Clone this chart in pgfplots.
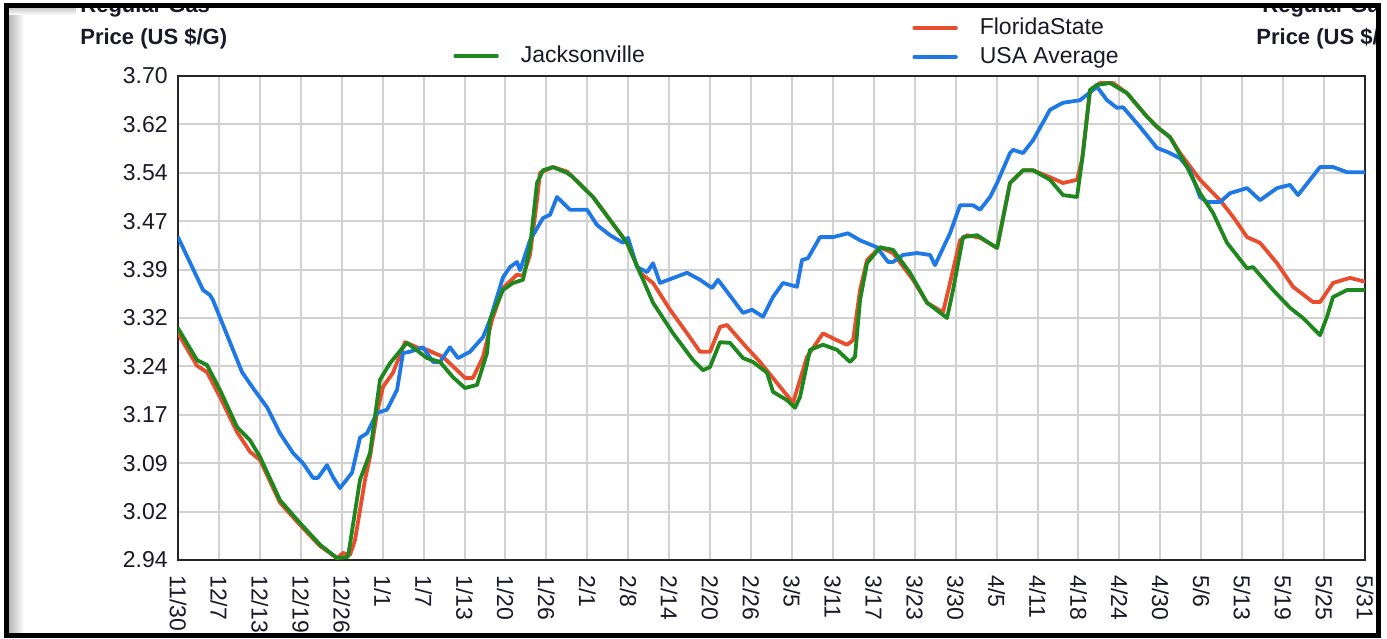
\documentclass[border=0pt]{standalone}
\usepackage{fontspec}
\setmainfont{Liberation Sans}
\usepackage{pgfplots}
\usepackage{pgfplotstable}
\pgfplotsset{compat=1.18}
\definecolor{jgreen}{RGB}{30,135,30}
\definecolor{fred}{RGB}{232,78,45}
\definecolor{ublue}{RGB}{30,120,230}
\definecolor{txt}{RGB}{25,25,40}

\pgfplotstableread{
x y
0 3.447
0.611 3.364
0.782 3.356
0.855 3.348
1.564 3.235
1.832 3.210
2.174 3.180
2.492 3.139
2.810 3.108
3.054 3.092
3.298 3.069
3.420 3.069
3.640 3.089
3.787 3.070
3.958 3.053
4.251 3.077
4.447 3.132
4.618 3.139
4.862 3.171
5.106 3.176
5.351 3.207
5.497 3.265
5.668 3.267
5.986 3.274
6.230 3.251
6.401 3.251
6.645 3.274
6.841 3.257
7.134 3.267
7.452 3.290
7.623 3.317
7.940 3.384
8.111 3.400
8.282 3.408
8.356 3.395
8.600 3.442
8.918 3.477
9.089 3.482
9.260 3.510
9.577 3.490
9.993 3.490
10.237 3.466
10.555 3.450
10.872 3.438
10.994 3.446
11.214 3.400
11.459 3.392
11.605 3.406
11.776 3.375
12.436 3.391
12.754 3.380
13.047 3.367
13.193 3.380
13.804 3.328
14.024 3.333
14.293 3.322
14.537 3.353
14.781 3.375
15.123 3.369
15.245 3.411
15.392 3.414
15.685 3.447
16.003 3.447
16.369 3.453
16.663 3.442
17.078 3.431
17.347 3.408
17.469 3.408
17.713 3.419
18.055 3.422
18.373 3.419
18.495 3.403
18.861 3.453
19.106 3.497
19.424 3.497
19.595 3.490
19.839 3.510
20.010 3.532
20.327 3.579
20.401 3.584
20.645 3.579
20.889 3.599
21.305 3.647
21.622 3.658
22.038 3.662
22.355 3.678
22.453 3.683
22.697 3.662
22.942 3.650
23.088 3.651
23.504 3.620
23.919 3.587
24.163 3.581
24.481 3.571
24.725 3.552
24.970 3.510
25.140 3.502
25.458 3.502
25.702 3.516
26.118 3.524
26.435 3.505
26.851 3.524
27.168 3.529
27.364 3.513
27.901 3.557
28.219 3.557
28.561 3.549
29 3.549
}\usadata

\pgfplotstableread{
x y
0 3.296
0.464 3.245
0.709 3.235
1.026 3.196
1.441 3.141
1.759 3.110
2.003 3.097
2.492 3.030
2.981 2.995
3.469 2.962
3.885 2.943
4.031 2.951
4.202 2.948
4.324 2.971
4.569 3.066
4.691 3.102
4.862 3.171
5.009 3.212
5.253 3.234
5.546 3.282
5.839 3.274
6.084 3.270
6.474 3.259
6.816 3.238
7.012 3.226
7.207 3.226
7.452 3.259
7.672 3.317
7.940 3.367
8.282 3.388
8.429 3.386
8.600 3.419
8.771 3.505
8.844 3.548
9.162 3.557
9.504 3.550
9.651 3.541
10.139 3.510
10.555 3.474
10.970 3.438
11.288 3.391
11.605 3.375
12.021 3.333
12.436 3.296
12.754 3.267
12.998 3.267
13.242 3.306
13.413 3.309
13.902 3.273
14.219 3.251
14.708 3.212
15.026 3.187
15.368 3.259
15.759 3.296
16.101 3.285
16.345 3.278
16.492 3.285
16.663 3.364
16.834 3.411
17.151 3.431
17.469 3.422
17.957 3.380
18.300 3.344
18.690 3.329
18.861 3.375
19.106 3.442
19.277 3.450
19.595 3.446
20.010 3.430
20.327 3.532
20.645 3.552
20.889 3.552
21.305 3.541
21.622 3.532
21.964 3.537
22.086 3.568
22.282 3.678
22.526 3.689
22.844 3.689
23.186 3.673
23.675 3.636
23.919 3.620
24.237 3.604
24.481 3.579
24.970 3.537
25.458 3.505
25.776 3.479
26.118 3.447
26.435 3.438
26.851 3.406
27.242 3.369
27.730 3.345
27.901 3.345
28.219 3.375
28.634 3.383
29 3.377
}\fldata

\pgfplotstableread{
x y
0 3.304
0.464 3.254
0.709 3.246
1.026 3.207
1.441 3.149
1.759 3.128
2.003 3.102
2.492 3.034
2.981 2.998
3.469 2.964
3.885 2.943
4.153 2.945
4.447 3.066
4.691 3.108
4.935 3.223
5.180 3.249
5.497 3.274
5.595 3.281
6.084 3.257
6.401 3.251
6.719 3.227
7.012 3.210
7.305 3.215
7.550 3.265
7.623 3.317
7.940 3.364
8.185 3.375
8.429 3.380
8.600 3.431
8.771 3.532
8.918 3.552
9.162 3.557
9.504 3.548
9.651 3.541
10.139 3.510
10.555 3.474
10.970 3.438
11.288 3.391
11.605 3.344
12.094 3.296
12.582 3.254
12.827 3.238
12.998 3.243
13.242 3.282
13.486 3.281
13.804 3.257
14.048 3.251
14.391 3.234
14.537 3.204
14.879 3.191
15.075 3.179
15.197 3.196
15.441 3.270
15.759 3.278
16.101 3.270
16.418 3.251
16.540 3.259
16.663 3.348
16.834 3.406
17.151 3.431
17.469 3.427
17.884 3.391
18.300 3.344
18.788 3.320
18.935 3.364
19.179 3.447
19.521 3.450
20.010 3.430
20.327 3.532
20.645 3.552
20.889 3.552
21.305 3.537
21.622 3.513
21.964 3.510
22.111 3.579
22.282 3.678
22.453 3.686
22.771 3.689
23.186 3.673
23.675 3.636
23.919 3.620
24.237 3.604
24.652 3.557
24.970 3.516
25.287 3.485
25.629 3.438
26.118 3.398
26.264 3.400
26.753 3.364
27.168 3.336
27.486 3.320
27.901 3.293
28.072 3.322
28.219 3.353
28.561 3.364
29 3.364
}\jaxdata

\newcommand{\tfont}{\fontsize{11.5}{13.8}\selectfont}

\begin{document}
\begin{tikzpicture}[x=1pt,y=1pt]
\useasboundingbox (0,0) rectangle (693.5,319);
\fill[white] (0,0) rectangle (693.5,319);
\begin{scope}
\clip (4.5,2.5) rectangle (687.5,315.3);
\shade[left color=black!28,right color=white] (4.5,0) rectangle (12,319);
\shade[top color=black!22,bottom color=white] (4.5,311.5) rectangle (38,315.3);

\begin{axis}[
  at={(89pt,39pt)}, anchor=south west,
  scale only axis, width=593.5pt, height=242pt,
  xmin=0, xmax=29, ymin=2.94, ymax=3.70,
  xtick={0,...,29},
  xticklabels={11/30,12/7,12/13,12/19,12/26,1/1,1/7,1/13,1/20,1/26,2/1,2/8,2/14,2/20,2/26,3/5,3/11,3/17,3/23,3/30,4/5,4/11,4/18,4/24,4/30,5/6,5/13,5/19,5/25,5/31},
  ytick={2.94,3.016,3.092,3.168,3.244,3.32,3.396,3.472,3.548,3.624,3.70},
  yticklabels={2.94,3.02,3.09,3.17,3.24,3.32,3.39,3.47,3.54,3.62,3.70},
  major tick length=0pt,
  grid=major,
  major grid style={black!18, line width=1pt},
  axis line style={black!85, line width=1.1pt},
  tick label style={font=\tfont, text=txt},
  /pgf/number format/assume math mode=true,
  xticklabel style={rotate=-90, anchor=west, inner xsep=6pt, inner ysep=0pt, xshift=1.5pt},
  yticklabel style={anchor=east, inner xsep=5pt},
  legend style={draw=none, fill=none, inner sep=0pt, font=\tfont, text=txt,
     at={(0.6184,1.122)}, anchor=north west,
     nodes={inner sep=0pt, text height=8.5pt, text depth=2.5pt},
     row sep=3.5pt,
     /tikz/every odd column/.append style={column sep=11pt}},
  legend cell align=left,
  legend image code/.code={\path[draw=none,fill=none] (0pt,-5.5pt) rectangle (20.5pt,5.5pt); \draw[#1, line width=2.2pt] (0pt,0.2pt) -- (20.5pt,0.2pt);},
  every axis plot/.append style={line width=1.9pt, line join=round, line cap=round},
]
\addplot[fred] table[x=x,y=y] {\fldata};
\addplot[ublue] table[x=x,y=y] {\usadata};
\addplot[jgreen, forget plot] table[x=x,y=y] {\jaxdata};
\legend{FloridaState, USA Average}
\end{axis}

\begin{axis}[
  at={(89pt,39pt)}, anchor=south west,
  scale only axis, width=593.5pt, height=242pt,
  xmin=0, xmax=29, ymin=2.94, ymax=3.70, hide axis,
  legend style={draw=none, fill=none, inner sep=0pt, font=\tfont, text=txt,
     at={(0.2317,1.064)}, anchor=north west,
     nodes={inner sep=0pt, text height=8.5pt, text depth=2.5pt},
     /tikz/every odd column/.append style={column sep=11pt}},
  legend cell align=left,
  legend image code/.code={\path[draw=none,fill=none] (0pt,-5.5pt) rectangle (20.5pt,5.5pt); \draw[#1, line width=2.2pt] (0pt,0.2pt) -- (20.5pt,0.2pt);},
]
\addlegendimage{jgreen, line cap=round}
\addlegendentry{Jacksonville}
\end{axis}

\node[anchor=base west, inner sep=0pt, font=\bfseries\fontsize{11}{13}\selectfont, text=txt] at (40,312.5) {Regular Gas};
\node[anchor=base west, inner sep=0pt, font=\bfseries\fontsize{11}{13}\selectfont, text=txt] at (40,296.5) {Price (US \$/G)};
\node[anchor=base west, inner sep=0pt, font=\bfseries\fontsize{11}{13}\selectfont, text=txt] at (631,312.5) {Regular Gas};
\node[anchor=base west, inner sep=0pt, font=\bfseries\fontsize{11}{13}\selectfont, text=txt] at (628,296.5) {Price (US \$/G)};
\end{scope}
\draw[line width=2.6pt, black] (3.25,1.3) rectangle (689.25,316.4);
\end{tikzpicture}
\end{document}
